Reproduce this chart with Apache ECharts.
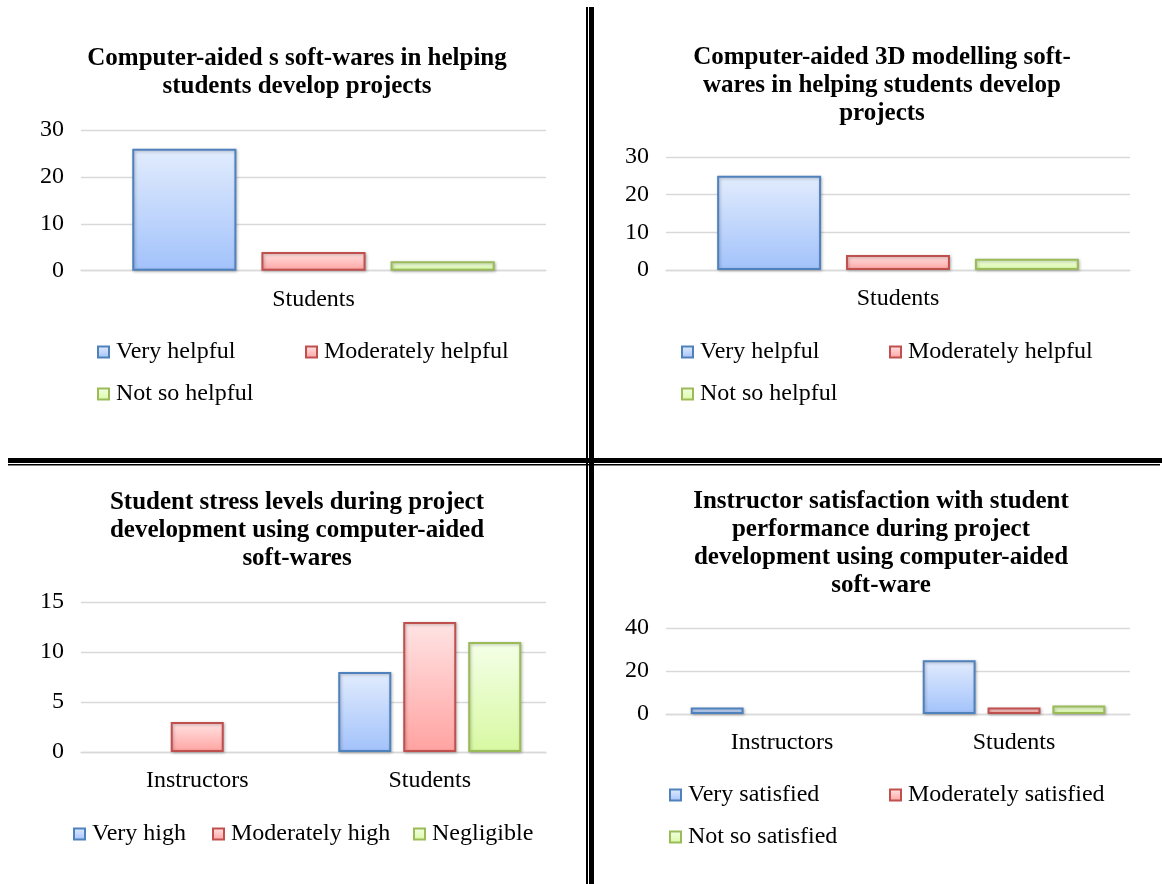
<!DOCTYPE html>
<html>
<head>
<meta charset="utf-8">
<script src="https://cdn.jsdelivr.net/npm/echarts@6/dist/echarts.min.js"></script>
<style>
  html, body { margin: 0; padding: 0; background: #fff; }
  #chart { width: 1162px; height: 884px; }
</style>
</head>
<body>
<div id="chart"></div>
<script>
// ---- data ----
const helpCategories = ['Students'];
const helpSeriesNames = ['Very helpful', 'Moderately helpful', 'Not so helpful'];
const cadHelpVery = [26];
const cadHelpModerate = [4];
const cadHelpNotSo = [2];
const modellingHelpVery = [25];
const modellingHelpModerate = [4];
const modellingHelpNotSo = [3];

const stressCategories = ['Instructors', 'Students'];
const stressSeriesNames = ['Very high', 'Moderately high', 'Negligible'];
const stressVeryHigh = [null, 8];
const stressModerate = [3, 13];
const stressNegligible = [null, 11];

const satisfactionCategories = ['Instructors', 'Students'];
const satisfactionSeriesNames = ['Very satisfied', 'Moderately satisfied', 'Not so satisfied'];
const satisfiedVery = [3, 25];
const satisfiedModerate = [null, 3];
const satisfiedNotSo = [null, 4];

const titles = [
  'Computer-aided s soft-wares in helping\nstudents develop projects',
  'Computer-aided 3D modelling soft-\nwares in helping students develop\nprojects',
  'Student stress levels during project\ndevelopment using computer-aided\nsoft-wares',
  'Instructor satisfaction with student\nperformance during project\ndevelopment using computer-aided\nsoft-ware'
];
const yMax = [30, 30, 15, 40];
const yStep = [10, 10, 5, 20];

// ---- styling ----
const FONT = '"Liberation Serif", "Times New Roman", serif';
const palette = [
  { top: '#e2ecfd', bottom: '#a2c2fb', border: '#4f81bd' },
  { top: '#ffe4e4', bottom: '#ffa3a1', border: '#c0504d' },
  { top: '#f4ffe8', bottom: '#d8f9a2', border: '#9bbb59' }
];
function barStyle(i) {
  const c = palette[i];
  return {
    color: new echarts.graphic.LinearGradient(0, 0, 0, 1, [
      { offset: 0, color: c.top },
      { offset: 1, color: c.bottom }
    ]),
    borderColor: c.border,
    borderWidth: 2,
    shadowColor: 'rgba(0,0,0,0.25)',
    shadowBlur: 3,
    shadowOffsetX: 1,
    shadowOffsetY: 1
  };
}

// panel layout: grid boxes in pixels
const grids = [
  { left: 81, top: 130, width: 465, height: 140.7 },
  { left: 666, top: 157, width: 464, height: 113 },
  { left: 81, top: 602, width: 465, height: 150 },
  { left: 666, top: 628, width: 464, height: 86 }
];
const titleAnchors = [[297, 45], [882, 44], [297, 489], [881, 488]];
const barWidths = ['22.4%', '22.4%', '22.8%', '22.8%'];
const barGaps = ['24%', '24%', '22.6%', '22.6%'];

const panels = [
  { cats: helpCategories, names: helpSeriesNames, values: [cadHelpVery, cadHelpModerate, cadHelpNotSo] },
  { cats: helpCategories, names: helpSeriesNames, values: [modellingHelpVery, modellingHelpModerate, modellingHelpNotSo] },
  { cats: stressCategories, names: stressSeriesNames, values: [stressVeryHigh, stressModerate, stressNegligible] },
  { cats: satisfactionCategories, names: satisfactionSeriesNames, values: [satisfiedVery, satisfiedModerate, satisfiedNotSo] }
];

// legend entries: [name, left of marker, vertical centre]
const legendEntries = [
  ['Very helpful', 97, 352], ['Moderately helpful', 305, 352], ['Not so helpful', 97, 394],
  ['Very helpful', 681, 352], ['Moderately helpful', 889, 352], ['Not so helpful', 681, 394],
  ['Very high', 73, 834], ['Moderately high', 212, 834], ['Negligible', 413, 834],
  ['Very satisfied', 669, 795], ['Moderately satisfied', 889, 795], ['Not so satisfied', 669, 837]
];

const option = {
  animation: false,
  backgroundColor: '#ffffff',
  grid: grids.map(g => Object.assign({ containLabel: false }, g)),
  xAxis: panels.map((p, i) => ({
    type: 'category',
    gridIndex: i,
    data: p.cats,
    axisTick: { show: false },
    axisLine: { show: true, lineStyle: { color: '#d9d9d9', width: 1.3 } },
    axisLabel: { color: '#000', fontFamily: FONT, fontSize: 24, margin: 17 }
  })),
  yAxis: panels.map((p, i) => ({
    type: 'value',
    gridIndex: i,
    min: 0,
    max: yMax[i],
    interval: yStep[i],
    axisLine: { show: false },
    axisTick: { show: false },
    splitLine: { lineStyle: { color: '#d9d9d9', width: 1.3 } },
    axisLabel: { color: '#000', fontFamily: FONT, fontSize: 24, margin: 17, padding: [4, 0, 0, 0] }
  })),
  legend: legendEntries.map(([name, x, y]) => ({
    data: [name],
    left: x,
    top: y - 12,
    padding: 0,
    icon: 'rect',
    itemWidth: 11,
    itemHeight: 11,
    selectedMode: false,
    textStyle: { color: '#000', fontFamily: FONT, fontSize: 24, padding: [0, 0, 0, 2] }
  })),
  series: [],
  graphic: []
};

panels.forEach((p, i) => {
  p.values.forEach((vals, k) => {
    option.series.push({
      type: 'bar',
      name: p.names[k],
      xAxisIndex: i,
      yAxisIndex: i,
      data: vals,
      barWidth: barWidths[i],
      barGap: barGaps[i],
      itemStyle: barStyle(k)
    });
  });
});

// chart titles
titles.forEach((t, i) => {
  option.graphic.push({
    type: 'text',
    x: titleAnchors[i][0],
    y: titleAnchors[i][1],
    style: {
      text: t,
      fill: '#000',
      font: 'bold 25px ' + FONT,
      fontFamily: FONT,
      fontWeight: 'bold',
      fontSize: 25,
      lineHeight: 28,
      textAlign: 'center',
      align: 'center',
      textVerticalAlign: 'top',
      verticalAlign: 'top'
    }
  });
});

// double rules separating the four panels
const rules = [
  { x: 586, y: 7, width: 2, height: 877 },
  { x: 589, y: 7, width: 5, height: 877 },
  { x: 8, y: 458, width: 1154, height: 5 },
  { x: 8, y: 464, width: 1152, height: 1.5 }
];
rules.forEach(r => {
  option.graphic.push({ type: 'rect', shape: r, style: { fill: '#000' }, z: 100 });
});

const chart = echarts.init(document.getElementById('chart'), null, { renderer: 'canvas' });
chart.setOption(option);
</script>
</body>
</html>
